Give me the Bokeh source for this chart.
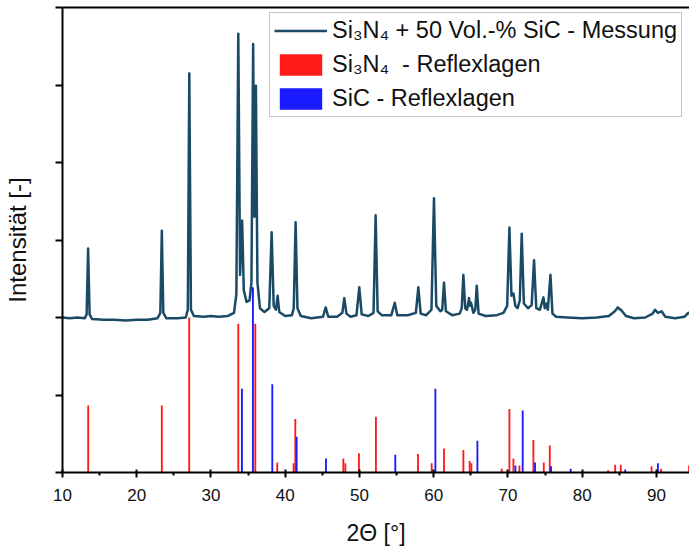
from bokeh.plotting import figure
from bokeh.models import (Range1d, LinearAxis, FixedTicker, Legend, LegendItem)
from bokeh.embed import file_html
from bokeh.resources import INLINE

# ---- data ----
# measured pattern (2-theta in degrees, intensity in arbitrary units above background)
meas_two_theta = [
    10.0, 11.0, 12.0, 13.0, 13.25, 13.45, 13.65, 14.0, 15.5, 17.0,
    18.5, 20.0, 21.5, 22.8, 23.18, 23.38, 23.58, 24.0, 25.5, 26.6,
    26.88, 27.08, 27.3, 27.7, 29.0, 30.0, 31.0, 32.3, 33.1, 33.42,
    33.68, 33.92, 34.2, 34.42, 34.8, 35.2, 35.45, 35.68, 35.86, 36.05,
    36.26, 36.6, 37.2, 37.85, 38.17, 38.45, 38.75, 38.98, 39.2, 40.0,
    40.9, 41.15, 41.4, 41.65, 42.1, 43.5, 45.1, 45.45, 45.8, 47.0,
    47.7, 47.96, 48.25, 48.8, 49.6, 49.98, 50.3, 51.2, 51.9, 52.18,
    52.45, 53.0, 54.3, 54.75, 55.1, 56.5, 57.6, 57.93, 58.25, 59.0,
    59.7, 60.04, 60.35, 60.9, 61.15, 61.39, 61.65, 62.5, 63.5, 63.78,
    64.0, 64.25, 64.5, 64.76, 64.9, 65.03, 65.35, 65.6, 65.8, 66.05,
    67.0, 68.5, 69.4, 69.9, 70.2, 70.48, 70.74, 71.0, 71.3, 71.6,
    71.86, 72.15, 72.7, 73.2, 73.52, 73.82, 74.3, 74.79, 74.96, 75.14,
    75.38, 75.73, 76.0, 76.5, 78.0, 80.0, 82.0, 83.6, 84.4, 84.8,
    85.3, 85.9, 87.0, 88.5, 89.5, 89.82, 90.2, 90.7, 91.2, 92.5,
    93.8, 94.3, 94.6,
]
meas_intensity = [
    0.00, -0.01, 0.00, -0.01, 0.04, 0.89, 0.04, -0.02, -0.03, -0.03,
    -0.04, -0.03, -0.03, -0.01, 0.06, 1.12, 0.06, -0.01, -0.01, 0.00,
    0.10, 3.15, 0.10, 0.02, 0.01, 0.02, 0.01, 0.02, 0.06, 0.30,
    3.66, 0.55, 1.25, 0.35, 0.20, 0.22, 0.45, 3.53, 1.30, 2.99,
    0.45, 0.12, 0.07, 0.12, 1.10, 0.15, 0.10, 0.28, 0.07, 0.02,
    0.03, 0.12, 1.23, 0.12, 0.02, -0.01, 0.01, 0.13, 0.01, 0.01,
    0.06, 0.25, 0.05, 0.01, 0.03, 0.39, 0.04, 0.02, 0.06, 1.32,
    0.08, 0.03, 0.03, 0.19, 0.03, 0.03, 0.06, 0.39, 0.05, 0.03,
    0.10, 1.54, 0.15, 0.08, 0.10, 0.45, 0.08, 0.03, 0.05, 0.12,
    0.55, 0.12, 0.10, 0.25, 0.15, 0.19, 0.06, 0.10, 0.41, 0.05,
    0.02, 0.03, 0.06, 0.15, 1.16, 0.28, 0.31, 0.15, 0.12, 0.22,
    1.08, 0.18, 0.12, 0.16, 0.74, 0.12, 0.10, 0.26, 0.12, 0.18,
    0.10, 0.55, 0.05, 0.01, 0.00, -0.01, 0.00, 0.02, 0.08, 0.13,
    0.09, 0.02, -0.01, 0.00, 0.05, 0.10, 0.06, 0.08, 0.01, -0.01,
    0.01, 0.06, 0.05,
]
meas_offset = 2.0

# Si3N4 reference reflections
si3n4_pos = [13.46, 23.38, 27.07, 33.68, 35.97, 38.93, 41.13, 41.36, 47.83, 48.10,
             49.93, 52.22, 57.89, 59.73, 61.39, 64.00, 64.85, 65.08, 69.16, 70.20,
             70.74, 71.55, 73.43, 74.83, 75.64, 83.50, 84.45, 85.20, 89.35, 90.63, 94.40]
si3n4_int = [0.865, 0.865, 2.00, 1.92, 1.92, 0.13, 0.12, 0.69, 0.18, 0.12,
             0.25, 0.72, 0.24, 0.12, 0.31, 0.29, 0.15, 0.12, 0.05, 0.82,
             0.18, 0.09, 0.42, 0.13, 0.35, 0.03, 0.10, 0.10, 0.08, 0.05, 0.09]

# SiC reference reflections
sic_pos = [34.17, 35.65, 38.26, 41.54, 45.49, 54.83, 60.23, 65.89, 71.01, 71.99,
           73.65, 75.81, 78.45, 85.80, 90.20]
sic_int = [1.08, 2.39, 1.14, 0.46, 0.18, 0.23, 1.08, 0.41, 0.09, 0.80,
           0.13, 0.08, 0.05, 0.04, 0.12]

x_ticks = [10, 20, 30, 40, 50, 60, 70, 80, 90]
y_ticks = [0, 1, 2, 3, 4, 5, 6]

label_meas = "Si\u2083N\u2084 + 50 Vol.-% SiC - Messung"
label_si3n4 = "Si\u2083N\u2084  - Reflexlagen"
label_sic = "SiC - Reflexlagen"
x_label = "2\u0398 [\u00b0]"
y_label = "Intensit\u00e4t [-]"

FONT = "Liberation Sans"
CURVE = "#1a4a66"

p = figure(width=689, height=549, output_backend="svg", toolbar_location=None,
           x_range=Range1d(10, 94.46), y_range=Range1d(0, 6.0),
           min_border_left=61, min_border_right=0, min_border_top=7,
           min_border_bottom=77)
p.outline_line_color = None
p.xgrid.visible = False
p.ygrid.visible = False
p.background_fill_color = "white"
p.border_fill_color = "white"

r_si3n4 = p.vbar(x=si3n4_pos, top=si3n4_int, bottom=0, width=0.25,
                 fill_color="#ff1a1a", line_color=None)
r_sic = p.vbar(x=sic_pos, top=sic_int, bottom=0, width=0.25,
               fill_color="#1a1aff", line_color=None)
r_meas = p.line(x=meas_two_theta, y=[v + meas_offset for v in meas_intensity],
                line_color=CURVE, line_width=2.5, line_join="round")

# x axis
xa = p.xaxis[0]
xa.ticker = FixedTicker(ticks=x_ticks, minor_ticks=[t + 5 for t in x_ticks])
xa.axis_label = x_label
xa.axis_label_text_font = FONT
xa.axis_label_text_font_size = "23px"
xa.axis_label_text_font_style = "normal"
xa.axis_label_text_color = "#111111"
xa.axis_label_standoff = 16
xa.major_label_text_font = FONT
xa.major_label_text_font_size = "17px"
xa.major_label_text_color = "#111111"
xa.major_label_standoff = 11
xa.axis_line_width = 2
xa.axis_line_color = "black"
xa.major_tick_in = 3
xa.major_tick_out = 5
xa.major_tick_line_width = 2
xa.minor_tick_in = 0
xa.minor_tick_out = 3
xa.minor_tick_line_width = 2

# y axis (ticks without numbers)
ya = p.yaxis[0]
ya.ticker = FixedTicker(ticks=y_ticks, minor_ticks=[])
ya.axis_label = y_label
ya.axis_label_text_font = FONT
ya.axis_label_text_font_size = "24px"
ya.axis_label_text_font_style = "normal"
ya.axis_label_text_color = "#111111"
ya.axis_label_standoff = 25
ya.major_label_text_font_size = "0px"
ya.major_label_text_color = None
ya.major_label_standoff = 0
ya.axis_line_width = 2
ya.axis_line_color = "black"
ya.major_tick_in = 0
ya.major_tick_out = 7
ya.major_tick_line_width = 2

# top frame line
top_axis = LinearAxis(ticker=FixedTicker(ticks=[]), major_label_text_font_size="0px",
                      major_label_text_color=None,
                      major_label_standoff=0, axis_line_width=2, axis_line_color="black",
                      major_tick_line_color=None, minor_tick_line_color=None)
p.add_layout(top_axis, "above")

legend = Legend(items=[
    LegendItem(label=label_meas, renderers=[r_meas]),
    LegendItem(label=label_si3n4, renderers=[r_si3n4]),
    LegendItem(label=label_sic, renderers=[r_sic]),
], location=(207, 355))
legend.label_text_font = FONT
legend.label_text_font_size = "23.5px"
legend.label_text_color = "#111111"
legend.glyph_width = 53
legend.glyph_height = 27
legend.label_height = 27
legend.spacing = 7
legend.padding = 4
legend.margin = 0
legend.label_standoff = 5
legend.border_line_color = "#8c8c8c"
legend.border_line_width = 1
legend.background_fill_color = "white"
legend.background_fill_alpha = 1.0
p.add_layout(legend)

open("out.html", "w").write(file_html(p, INLINE))
